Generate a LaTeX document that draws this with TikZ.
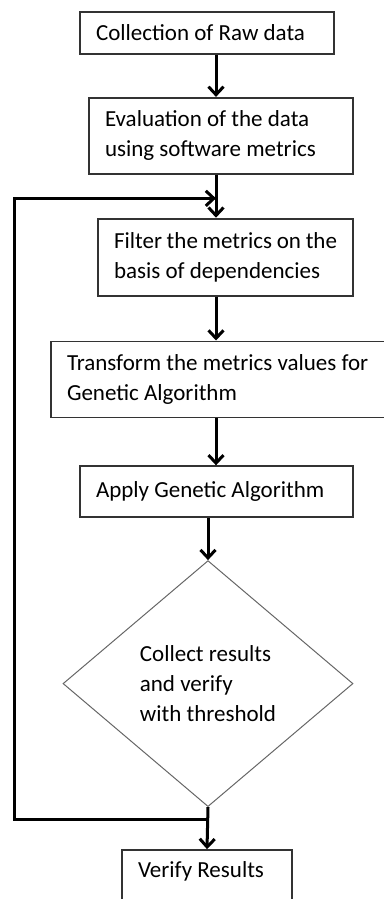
\documentclass[tikz,border=0pt]{standalone}
\usepackage{fontspec}
\setmainfont{Carlito}
\usetikzlibrary{positioning,shapes.geometric,arrows.meta}

\begin{document}
\begin{tikzpicture}[
x=0.5pt, y=0.5pt,
>={Straight Barb[length=4pt,width=7.5pt]},
stepbox/.style={rectangle, draw=black!80, line width=0.9pt, align=flush left, inner xsep=8pt, inner ysep=0pt, font=\fontsize{11.5}{15}\selectfont},
checknode/.style={diamond, draw=black!60, line width=0.5pt, align=flush left, inner sep=0pt, font=\fontsize{11.5}{15}\selectfont},
flow/.style={->, line width=1.5pt},
]
\useasboundingbox (0,0) rectangle (384,-899);
\clip (0,0) rectangle (384,-899);
%Nodes
\node[stepbox, text width=111pt, minimum height=21pt] (raw) at (207,-33) {Collection of Raw data};
\node[stepbox, text width=116pt, minimum height=38pt, below=21pt of raw, xshift=7pt] (eval) {Evaluation of the data\\using software metrics};
\node[stepbox, text width=111.5pt, minimum height=38.5pt, below=21.5pt of eval, xshift=2.25pt] (filter) {Filter the metrics on the\\basis of dependencies};
\node[stepbox, text width=154.5pt, minimum height=38pt, below=22pt of filter, xshift=-2pt] (transform) {Transform the metrics values for\\Genetic Algorithm};
\node[stepbox, text width=120.5pt, minimum height=25.5pt, below=23.5pt of transform, xshift=-2.5pt] (apply) {Apply Genetic Algorithm};
\node[checknode, minimum width=145pt, minimum height=123pt, below=21pt of apply, xshift=-4.25pt] (check) {Collect results\\and verify\\with threshold};
\node[stepbox, text width=69pt, text height=10pt, text depth=40pt, inner ysep=3.5pt, below=21pt of check, xshift=-0.5pt] (verify) {Verify Results};
\coordinate (spine) at (216,0);
\coordinate (rail) at (14,0);
\path (eval.south -| spine) -- coordinate[pos=0.55] (merge) (filter.north -| spine);
\path (check.south) -- coordinate[pos=0.3] (split) (verify.north);

%Lines
\draw[flow] (raw.south -| spine) -- (eval.north -| spine);
\draw[flow] (eval.south -| spine) -- (filter.north -| spine);
\draw[flow] (filter.south -| spine) -- (transform.north -| spine);
\draw[flow] (transform.south -| spine) -- (apply.north -| spine);
\draw[flow] (apply.south -| check.north) -- (check.north);
\draw[flow] (check.south) -- (verify.north);
\draw[flow] (split) -- (split -| rail) -- (merge -| rail) -- (merge);

\end{tikzpicture}
\end{document}
